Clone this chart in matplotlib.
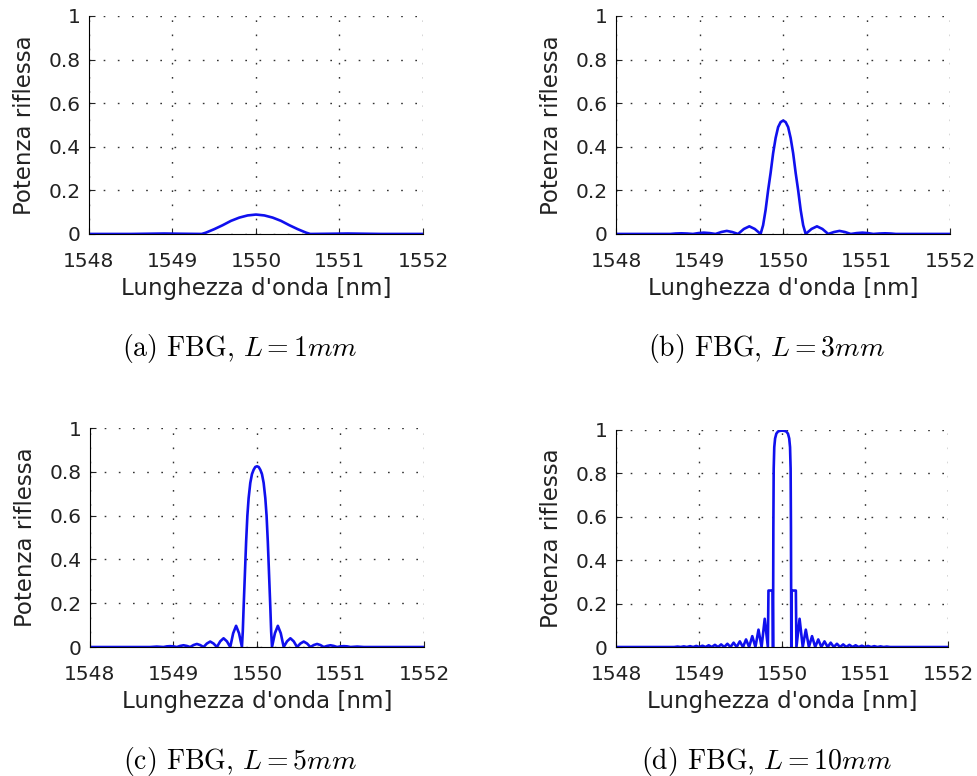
import numpy as np
import matplotlib
matplotlib.use("Agg")
import matplotlib.pyplot as plt

plt.rcParams['mathtext.fontset'] = 'cm'

# offsets from the Bragg wavelength (nm) and reflected power
center = 1550.0

off_a = [-2.0, -1.5, -1.3, -1.1, -0.9, -0.65, -0.6, -0.5, -0.4, -0.3, -0.2, -0.1, 0.0,
         0.1, 0.2, 0.3, 0.4, 0.5, 0.6, 0.65, 0.9, 1.1, 1.3, 1.5, 2.0]
r_a = [0, 0, 0.001, 0.002, 0.001, 0, 0.006, 0.022, 0.04, 0.06, 0.075, 0.085, 0.089,
       0.085, 0.075, 0.06, 0.04, 0.022, 0.006, 0, 0.001, 0.002, 0.001, 0, 0]

off_b = [-2.0, -1.35, -1.29, -1.22, -1.15, -1.08, -1.015, -0.95, -0.88, -0.81,
         -0.74, -0.675, -0.61, -0.54, -0.47, -0.405, -0.34, -0.27,
         -0.24, -0.21, -0.18, -0.15, -0.12, -0.09, -0.06, -0.03, 0.0,
         0.03, 0.06, 0.09, 0.12, 0.15, 0.18, 0.21, 0.24,
         0.27, 0.34, 0.405, 0.47, 0.54, 0.61, 0.675, 0.74, 0.81,
         0.88, 0.95, 1.015, 1.08, 1.15, 1.22, 1.29, 1.35, 2.0]
r_b = [0, 0, 0.002, 0.003, 0.002, 0, 0.004, 0.006, 0.004, 0,
       0.009, 0.014, 0.009, 0, 0.023, 0.035, 0.023, 0,
       0.04, 0.11, 0.2, 0.28, 0.37, 0.44, 0.49, 0.513, 0.52,
       0.513, 0.49, 0.44, 0.37, 0.28, 0.2, 0.11, 0.04,
       0, 0.023, 0.035, 0.023, 0, 0.009, 0.014, 0.009, 0,
       0.004, 0.006, 0.004, 0, 0.002, 0.003, 0.002, 0, 0]

off_c = [-2.0, -1.28, -1.2, -1.12, -1.08, -1.04, -1.0, -0.96, -0.92, -0.88, -0.84, -0.8,
         -0.76, -0.72, -0.68, -0.64, -0.6, -0.56, -0.52, -0.48, -0.44, -0.4, -0.36, -0.32,
         -0.285, -0.25, -0.215, -0.18,
         -0.17, -0.16, -0.15, -0.14, -0.13, -0.115, -0.1, -0.08, -0.06, -0.04, -0.02, 0.0,
         0.02, 0.04, 0.06, 0.08, 0.1, 0.115, 0.13, 0.14, 0.15, 0.16, 0.17,
         0.18, 0.215, 0.25, 0.285, 0.32, 0.36, 0.4, 0.44, 0.48, 0.52, 0.56, 0.6, 0.64,
         0.68, 0.72, 0.76, 0.8, 0.84, 0.88, 0.92, 0.96, 1.0, 1.04, 1.08, 1.12, 1.2, 1.28, 2.0]
r_c = [0, 0, 0.002, 0, 0.003, 0.004, 0.003, 0, 0.005, 0.008, 0.005, 0,
       0.009, 0.014, 0.009, 0, 0.016, 0.025, 0.016, 0, 0.026, 0.04, 0.026, 0,
       0.063, 0.097, 0.063, 0,
       0.07, 0.18, 0.28, 0.38, 0.48, 0.6, 0.68, 0.75, 0.79, 0.81, 0.823, 0.826,
       0.823, 0.81, 0.79, 0.75, 0.68, 0.6, 0.48, 0.38, 0.28, 0.18, 0.07,
       0, 0.063, 0.097, 0.063, 0, 0.026, 0.04, 0.026, 0, 0.016, 0.025, 0.016, 0,
       0.009, 0.014, 0.009, 0, 0.005, 0.008, 0.005, 0, 0.003, 0.004, 0.003, 0, 0.002, 0, 0]

off_d = [-2.0, -1.3, -1.26, -1.222, -1.185, -1.148, -1.11, -1.072, -1.035, -0.998, -0.96,
         -0.922, -0.885, -0.848, -0.81, -0.772, -0.735, -0.698, -0.66, -0.622, -0.585,
         -0.548, -0.51, -0.472, -0.435, -0.398, -0.36, -0.322, -0.285, -0.248, -0.21,
         -0.172, -0.165, -0.115, -0.11, -0.106, -0.102, -0.095, -0.085, -0.07, -0.05, -0.025, 0.0,
         0.025, 0.05, 0.07, 0.085, 0.095, 0.102, 0.106, 0.11, 0.115, 0.165, 0.172,
         0.21, 0.248, 0.285, 0.322, 0.36, 0.398, 0.435, 0.472, 0.51, 0.548, 0.585,
         0.622, 0.66, 0.698, 0.735, 0.772, 0.81, 0.848, 0.885, 0.922, 0.96, 0.998,
         1.035, 1.072, 1.11, 1.148, 1.185, 1.222, 1.26, 1.3, 2.0]
r_d = [0, 0, 0.002, 0, 0.003, 0, 0.004, 0, 0.005, 0, 0.006,
       0, 0.008, 0, 0.01, 0, 0.012, 0, 0.015, 0, 0.02,
       0, 0.026, 0, 0.035, 0, 0.05, 0, 0.08, 0, 0.13,
       0, 0.26, 0.26, 0, 0.55, 0.82, 0.92, 0.96, 0.982, 0.992, 0.995, 0.996,
       0.995, 0.992, 0.982, 0.96, 0.92, 0.82, 0.55, 0, 0.26, 0.26, 0,
       0.13, 0, 0.08, 0, 0.05, 0, 0.035, 0, 0.026, 0, 0.02,
       0, 0.015, 0, 0.012, 0, 0.01, 0, 0.008, 0, 0.006, 0,
       0.005, 0, 0.004, 0, 0.003, 0, 0.002, 0, 0]

captions = [r"(a) FBG, $L = 1mm$", r"(b) FBG, $L = 3mm$",
            r"(c) FBG, $L = 5mm$", r"(d) FBG, $L = 10mm$"]
xticks = [1548, 1549, 1550, 1551, 1552]
yticks = [0, 0.2, 0.4, 0.6, 0.8, 1]
ytick_labels = ['0', '0.2', '0.4', '0.6', '0.8', '1']

series = [(off_a, r_a), (off_b, r_b), (off_c, r_c), (off_d, r_d)]

# axes boxes in figure fractions [left, bottom, width, height]
boxes = [[0.091, 0.6985, 0.3415, 0.281],
         [0.630, 0.6985, 0.3415, 0.281],
         [0.092, 0.1662, 0.3415, 0.282],
         [0.630, 0.1662, 0.3395, 0.280]]
cap_pos = [(240, 349), (766, 349), (240, 761), (766, 761)]

fig = plt.figure(figsize=(9.78, 7.76), dpi=100)

for (off, r), box, cap, cp in zip(series, boxes, captions, cap_pos):
    ax = fig.add_axes(box)
    ax.plot(center + np.array(off), r, color='#1010ee', lw=1.9, solid_joinstyle='round')
    ax.set_xlim(1548, 1552)
    ax.set_ylim(0, 1)
    ax.set_xticks(xticks)
    ax.set_yticks(yticks)
    ax.set_yticklabels(ytick_labels)
    ax.grid(True, color='#333333', linestyle=(0, (1.2, 9)), linewidth=1.0)
    ax.spines['top'].set_visible(False)
    ax.spines['right'].set_visible(False)
    ax.tick_params(direction='in', length=4, labelsize=14.5, colors='#222222')
    ax.tick_params(axis='x', pad=13)
    ax.tick_params(axis='y', pad=6)
    ax.set_xlabel("Lunghezza d'onda [nm]", fontsize=16.5, color='#222222', labelpad=4)
    ax.set_ylabel("Potenza riflessa", fontsize=16.5, color='#222222', labelpad=9)
    fig.text(cp[0] / 978, 1 - cp[1] / 776, cap, fontsize=20, family='cmr10',
             ha='center', va='center')

fig.savefig("out.png", dpi=100, facecolor='white')
